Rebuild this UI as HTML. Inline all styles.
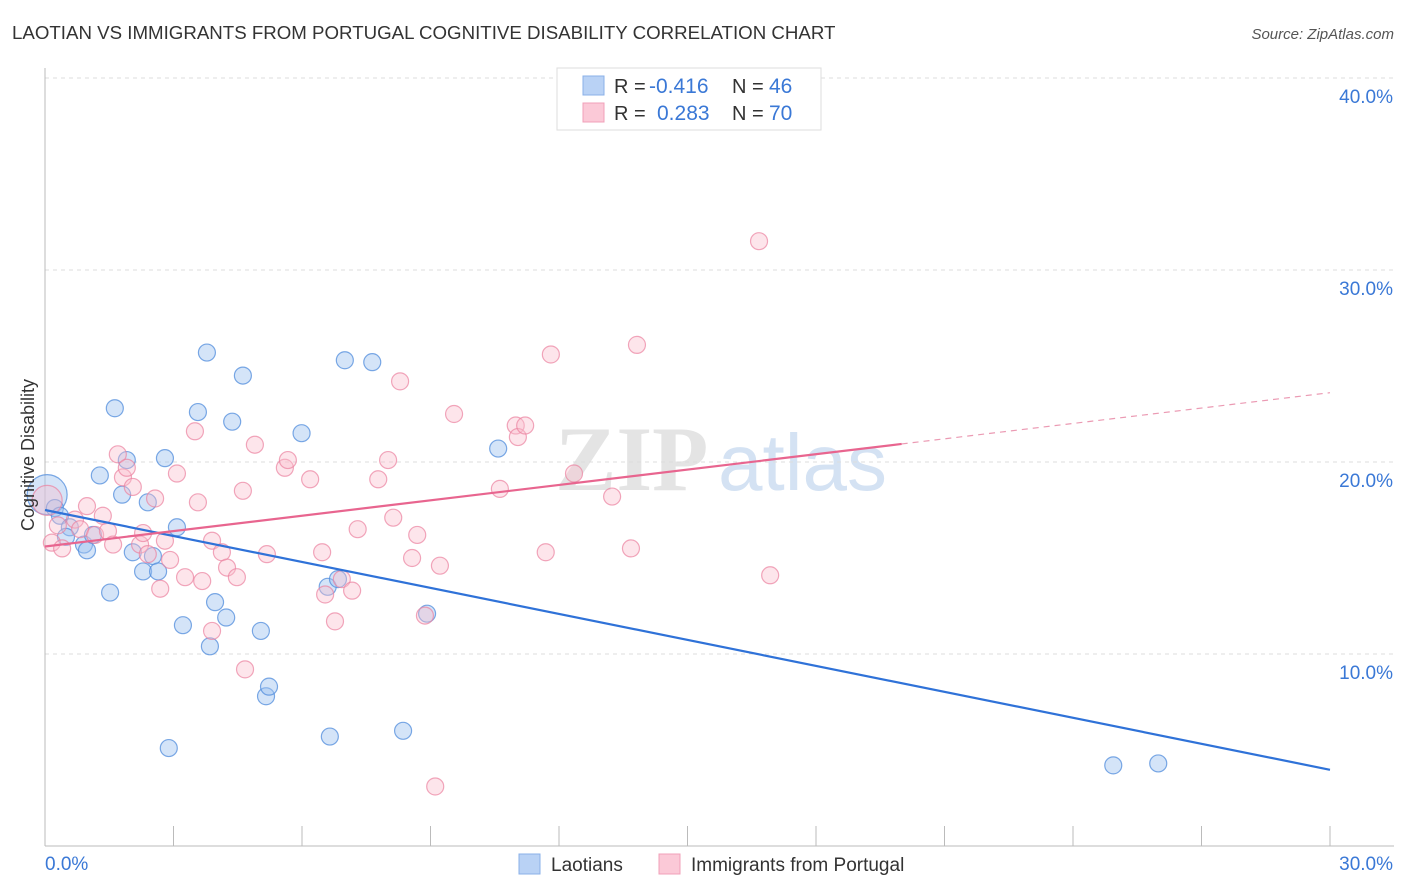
<!DOCTYPE html>
<html><head><meta charset="utf-8">
<style>
body{margin:0;background:#fff;font-family:"Liberation Sans",sans-serif;}
svg{display:block}
</style></head>
<body>
<svg id="chart" width="1406" height="892" xmlns="http://www.w3.org/2000/svg">
<text x="12" y="39" font-size="18.7" fill="#333" font-family="Liberation Sans">LAOTIAN VS IMMIGRANTS FROM PORTUGAL COGNITIVE DISABILITY CORRELATION CHART</text>
<text x="1394" y="39" font-size="15" fill="#555" text-anchor="end" font-style="italic">Source: ZipAtlas.com</text>
<g>
<text x="555" y="490" font-size="92" fill="#e4e4e4" font-family="Liberation Serif" font-weight="bold">ZIP</text>
<text x="718" y="490" font-size="80" fill="#d4e2f3" font-family="Liberation Sans">atlas</text>
</g>
<g id="grid"></g>
<g id="axes"></g>
<g id="marks"></g>
<g id="lines"></g>
<text transform="translate(34,455) rotate(-90)" font-size="18" fill="#333" text-anchor="middle">Cognitive Disability</text>
<g>
<rect x="557" y="68" width="264" height="62" fill="#fff" stroke="#ddd"/>
<g>
<rect x="583" y="76" width="21" height="19" fill="#b9d2f5" stroke="#8ab0e8"/>
<text x="614" y="93" font-size="20" fill="#333">R = </text><text x="649" y="93" font-size="21" fill="#3a78d6">-0.416</text>
<text x="732" y="93" font-size="20" fill="#333">N = </text><text x="769" y="93" font-size="21" fill="#3a78d6">46</text>
</g>
<g>
<rect x="583" y="103" width="21" height="19" fill="#fbc9d7" stroke="#f0a0b8"/>
<text x="614" y="120" font-size="20" fill="#333">R = </text><text x="657" y="120" font-size="21" fill="#3a78d6">0.283</text>
<text x="732" y="120" font-size="20" fill="#333">N = </text><text x="769" y="120" font-size="21" fill="#3a78d6">70</text>
</g>
</g>
<g>
<rect x="519" y="854" width="21" height="20" fill="#b9d2f5" stroke="#8ab0e8"/>
<text x="551" y="871" font-size="19" fill="#333">Laotians</text>
<rect x="659" y="854" width="21" height="20" fill="#fbc9d7" stroke="#f0a0b8"/>
<text x="691" y="871" font-size="19" fill="#333">Immigrants from Portugal</text>
</g>
</svg>
<script>
const yTicks=[10,20,30,40];
const yTickLabels=["10.0%","20.0%","30.0%","40.0%"];
const xLabels=["0.0%","30.0%"];
const blueX=[0.05,0.23,0.35,0.58,0.49,0.91,0.98,1.12,1.28,1.63,1.80,1.91,1.52,2.05,2.29,2.40,2.52,2.64,2.80,2.89,3.08,3.22,3.57,3.78,3.85,3.97,4.23,4.37,4.62,5.04,5.16,5.23,5.99,6.60,6.65,6.84,7.00,7.64,8.36,8.92,10.58,24.94,25.99];
const blueY=[18.3,17.6,17.2,16.6,16.1,15.7,15.4,16.2,19.3,22.8,18.3,20.1,13.2,15.3,14.3,17.9,15.1,14.3,20.2,5.1,16.6,11.5,22.6,25.7,10.4,12.7,11.9,22.1,24.5,11.2,7.8,8.3,21.5,13.5,5.7,13.9,25.3,25.2,6.0,12.1,20.7,4.2,4.3];
const pinkX=[0.05,0.16,0.40,0.30,0.70,0.82,0.98,1.17,1.35,1.47,1.59,1.70,1.82,1.91,2.05,2.22,2.29,2.40,2.57,2.69,2.80,2.92,3.08,3.27,3.50,3.57,3.67,3.90,3.90,4.13,4.25,4.48,4.62,4.67,4.90,5.18,5.60,5.67,6.19,6.47,6.54,6.77,6.93,7.17,7.30,7.78,8.01,8.13,8.29,8.57,8.69,8.87,9.11,9.22,9.55,10.62,10.99,11.04,11.21,11.69,11.81,12.35,13.24,13.68,13.82,16.67,16.93];
const pinkY=[18.0,15.8,15.5,16.7,17.0,16.5,17.7,16.2,17.2,16.4,15.7,20.4,19.2,19.7,18.7,15.7,16.3,15.2,18.1,13.4,15.9,14.9,19.4,14.0,21.6,17.9,13.8,15.9,11.2,15.3,14.5,14.0,18.5,9.2,20.9,15.2,19.7,20.1,19.1,15.3,13.1,11.7,13.9,13.3,16.5,19.1,20.1,17.1,24.2,15.0,16.2,12.0,3.1,14.6,22.5,18.6,21.9,21.3,21.9,15.3,25.6,19.4,18.2,15.5,26.1,31.5,14.1];
const blueFit=[17.5,-0.451];
const pinkFit=[15.6,0.267];
const pinkSolidEnd=20.0;
const X0=45,X1=1330,Y0=846,PY=19.2;
const xs=v=>X0+(v/30)*(X1-X0);
const ys=v=>Y0-v*PY;
const NS="http://www.w3.org/2000/svg";
function mk(tag,attrs,parent){const e=document.createElementNS(NS,tag);for(const k in attrs)e.setAttribute(k,attrs[k]);document.getElementById(parent).appendChild(e);return e;}
yTicks.forEach((t,i)=>{
 const g=mk('line',{x1:X0,x2:1394,y1:ys(t),y2:ys(t),stroke:'#ddd','stroke-dasharray':'4,4'},'grid');
 
 
 const l=mk('text',{x:1393,y:ys(t)+25,'font-size':19,fill:'#3a78d6','text-anchor':'end'},'axes');
 l.textContent=yTickLabels[i];
 
 
});
const ya=mk('line',{x1:X0,x2:X0,y1:68,y2:Y0,stroke:'#bbb'},'axes');


const xa=mk('line',{x1:X0,x2:1394,y1:Y0,y2:Y0,stroke:'#bbb'},'axes');


for(let i=0;i<=10;i++){
 const t=mk('line',{x1:xs(i*3),x2:xs(i*3),y1:826,y2:Y0,stroke:'#bbb'},'axes');
 
 
}
[[0,'start',45],[30,'end',1393]].forEach((a,i)=>{
 const l=mk('text',{x:a[2],y:870,'font-size':19,fill:'#3a78d6','text-anchor':a[1]},'axes');
 l.textContent=xLabels[i];
 
 
});
blueX.forEach((x,i)=>{
 const c=mk('circle',{cx:xs(x),cy:ys(blueY[i]),r:i==0?20:8.5,fill:'rgba(160,195,240,0.45)',stroke:'rgba(80,140,220,0.75)','stroke-width':1.2},'marks');
 
 
});
pinkX.forEach((x,i)=>{
 const c=mk('circle',{cx:xs(x),cy:ys(pinkY[i]),r:i==0?15:8.5,fill:'rgba(250,190,205,0.4)',stroke:'rgba(235,130,160,0.7)','stroke-width':1.2},'marks');
 
 
});
const bl=mk('line',{x1:xs(0),y1:ys(blueFit[0]),x2:xs(30),y2:ys(blueFit[0]+blueFit[1]*30),stroke:'#2f72d8','stroke-width':2.2},'lines');


const pl=mk('line',{x1:xs(0),y1:ys(pinkFit[0]),x2:xs(pinkSolidEnd),y2:ys(pinkFit[0]+pinkFit[1]*pinkSolidEnd),stroke:'#e8658f','stroke-width':2.2},'lines');


const pd=mk('line',{x1:xs(pinkSolidEnd),y1:ys(pinkFit[0]+pinkFit[1]*pinkSolidEnd),x2:xs(30),y2:ys(pinkFit[0]+pinkFit[1]*30),stroke:'#eb9ab3','stroke-width':1.2,'stroke-dasharray':'6,5'},'lines');


</script>
</body></html>
